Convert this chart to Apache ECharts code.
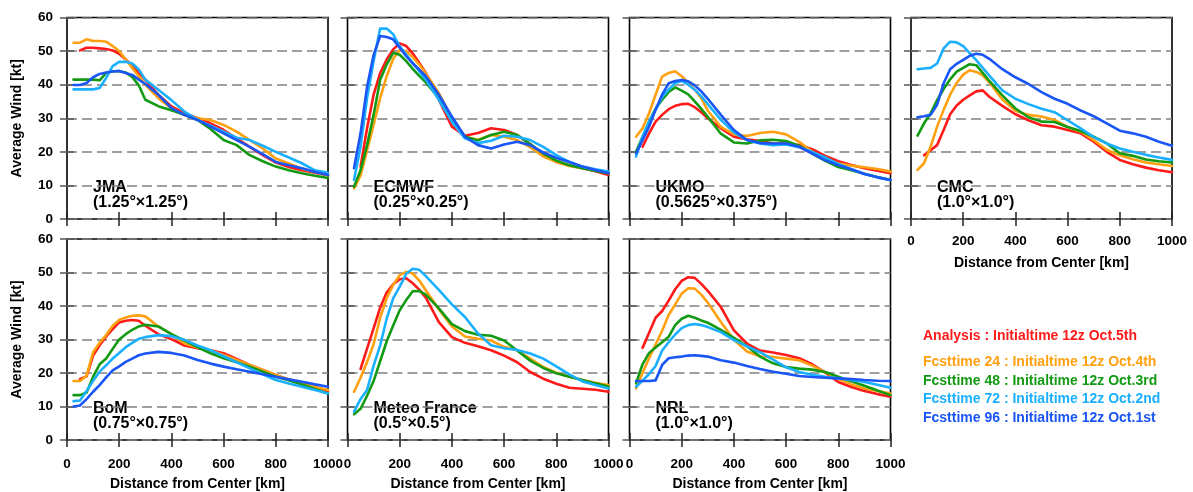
<!DOCTYPE html>
<html>
<head>
<meta charset="utf-8">
<script src="https://cdn.jsdelivr.net/npm/echarts@6/dist/echarts.min.js"></script>
<style>
html,body{margin:0;padding:0;background:#fff;}
#chart{width:1193px;height:492px;}
</style>
</head>
<body>
<div id="chart"></div>
<script>
// ---------------- DATA ----------------
const distance = [25,50,75,100,125,150,175,200,225,250,275,300,350,400,450,500,550,600,650,700,750,800,850,900,950,1000];

const models = ['JMA','ECMWF','UKMO','CMC','BoM','Meteo France','NRL'];
const resolutions = ['(1.25°×1.25°)','(0.25°×0.25°)','(0.5625°×0.375°)','(1.0°×1.0°)','(0.75°×0.75°)','(0.5°×0.5°)','(1.0°×1.0°)'];
const seriesNames = [
  'Analysis : Initialtime 12z Oct.5th',
  'Fcsttime 24 : Initialtime 12z Oct.4th',
  'Fcsttime 48 : Initialtime 12z Oct.3rd',
  'Fcsttime 72 : Initialtime 12z Oct.2nd',
  'Fcsttime 96 : Initialtime 12z Oct.1st'
];
const seriesColors = ['#ff1a1a','#ffa010','#139a13','#1ab0ff','#1a55f5'];
const xTickValues = [0,200,400,600,800,1000];
const yTickValues = [0,10,20,30,40,50,60];

// JMA
const jmaAna = [null,50.2,51,51,50.8,50.6,50.2,49.2,47.5,45.5,43.5,41.5,37,33.5,31.5,30,28.5,26.5,24,21.5,19,16.8,15.5,14.5,13.8,13];
const jmaF24 = [52.5,52.5,53.5,53,53,52.8,51.5,50,47.5,45,42.5,40,36,33,31,30,29.5,28,26,23.5,21,18,16.5,15,14,13];
const jmaF48 = [41.5,41.5,41.5,41.5,41.3,43.5,44,44,43.6,42.3,39.8,35.5,33.6,32.4,31,29.5,26.8,23.5,22,19,17.2,15.6,14.5,13.6,12.9,12.2];
const jmaF72 = [38.6,38.6,38.6,38.6,39,42,45.5,46.8,46.8,46.3,44.5,41.5,38.5,35.4,32,29.5,27.8,26,24.2,23.5,21.8,20,18.3,16.6,14.5,13.8];
const jmaF96 = [39.9,39.9,40.5,42.2,43.2,43.6,43.9,44.1,43.5,42.9,41.5,40.2,37,33,31,29.5,27.5,25.5,23.5,21.5,19.3,17,16,15.1,14,13.1];

// ECMWF
const ecAna = [null,15.6,27,37,43.4,47.5,50.5,52.3,51.5,49.3,46.5,43.5,35.5,27.5,24.8,25.6,27,26.5,25,22.3,19,17,16,15.1,14.2,13.1];
const ecF24 = [9.1,13,20.5,28,36,42.5,47.7,50.3,50,48.2,46,43.3,37.5,30,24.4,23.6,25,24.5,23.5,21.4,18.6,17,15.8,15.1,14.5,13.8];
const ecF48 = [9.6,14.5,22,31,41.4,46,49.5,48.9,47,44.7,42.6,40.7,36,30,24.6,23.4,25,26,25,22.3,19.5,17.4,16,15.1,14.3,13.6];
const ecF72 = [11.6,21.5,36,47,56.7,56.7,55,51.5,49,46.5,44,41.5,35.5,29,24,22.6,23.3,24.8,24.5,23.5,21.5,19,17,15.6,14.8,14.1];
const ecF96 = [15.1,25.5,39.4,48.8,54.5,54.2,53.5,51,48.5,46.3,44.5,42.5,37,30.5,24.5,22,21,22.2,23,22,19.8,18.2,17,15.6,14.6,13.6];

// UKMO
const ukAna = [null,21.5,25.5,29,31,32.7,33.7,34.2,34.3,33.3,31.8,30,27,24.5,23.7,23.2,22.5,22.5,22,20.8,18.8,17.2,16.1,15.1,14.4,13.6];
const ukF24 = [24.5,27,31.5,37,42.4,43.5,44,42.5,40.5,38.5,36,32.3,27.4,25.2,24.7,25.6,26,25.2,23,20,17.8,16.5,15.9,15.4,14.9,14.1];
const ukF48 = [20,24.5,29,32.8,35.5,37.8,39.2,38.2,37.1,35,32.8,30.4,25.4,22.8,22.5,23.4,23.6,23.2,21.8,19.5,17.3,15.5,14.5,13.5,12.5,11.6];
const ukF72 = [18.6,24.5,29,32.5,36.3,38.5,40.5,41.1,40,38.5,36.5,34.2,29.5,25.8,23.5,22.5,22,22.2,21.4,20,18.3,16.4,14.8,13.4,12.4,11.6];
const ukF96 = [19.5,23.5,27.5,32.6,37,40.4,41.1,41.4,41,39.8,38,35.8,31,26.5,23.5,22.6,22.5,22.5,21.5,19.5,17.5,16,14.8,13.4,12.4,11.6];

// CMC
const cmcAna = [null,19,20.5,22,26.5,31.2,33.8,35.5,36.8,38,38.3,36.4,33.7,31.2,29.4,27.9,27.5,26.5,25.5,23,20,17.6,16.3,15.3,14.5,13.9];
const cmcF24 = [14.6,16.6,21.5,27.5,32.5,37,40.5,43,44.3,43.8,42.8,40.7,35.6,32.2,31,30.5,29.5,27.4,26,23.5,20.6,19,17.8,16.8,16.3,15.8];
const cmcF48 = [24.8,28.5,31.4,35.4,38.7,41.6,43.9,45,46.1,45.8,43.5,41.1,36.8,32.9,30.3,29,28.9,27.4,26.2,24.5,22.5,19.6,18.8,17.7,17.2,16.8];
const cmcF72 = [44.6,44.8,45,46.3,50.8,52.8,52.6,51.5,49.4,47.3,45,42.7,38.3,35.8,34.2,32.8,31.8,29.4,27,24.4,22.5,21,20,19.1,18.3,17.6];
const cmcF96 = [30.3,30.6,31,34,40.4,44.6,46.2,47.4,48.6,49.2,48.9,47.7,44.6,42.2,40.2,37.8,35.8,34.3,32.3,30.6,28.5,26.3,25.5,24.5,23,21.8];

// BoM
const bomAna = [null,18.2,19,25.2,28.3,30.9,33.1,35.1,35.6,35.8,35.6,34.1,31.6,30.1,28.2,27.4,26.8,25.9,24.2,22.4,20.9,19.4,18,16.6,15.5,14.4];
const bomF24 = [17.6,17.6,19.2,26.2,29,31.3,34.1,35.8,36.6,37.1,37.2,36.9,33.9,31.6,28.8,27.6,26.7,25.4,23.9,22.4,20.9,19.4,18.1,16.9,15.9,14.9];
const bomF48 = [13.4,13.4,14.2,18.9,22.6,24.3,27.2,30,31.6,32.9,33.9,34.4,33.9,31.6,29.7,27.7,25.9,24.4,23.2,21.9,20.4,18.9,17.8,16.6,15.2,13.9];
const bomF72 = [11.6,11.8,14.6,17.7,20.4,22.3,24.3,26,27.7,29,30.2,30.7,31.3,31,29.9,28.2,26.8,25,23.2,21.4,19.6,17.9,16.9,15.9,14.9,13.9];
const bomF96 = [10,10.3,12.2,14.4,16.4,18.7,20.8,22,23.3,24.3,25.3,25.8,26.3,26,25.2,23.9,22.8,21.9,21.1,20.4,19.6,18.9,18.1,17.4,16.6,15.9];

// Meteo France (no 96h forecast)
const mfAna = [null,21.2,27.3,33.3,39.5,44,46.5,48,48.3,46.8,44.9,42.5,35.2,30.7,29,28,26.8,25.2,23.2,20.3,18.3,16.8,15.6,15.3,15,14.4];
const mfF24 = [14.4,18.6,23.3,28.6,36.5,42.3,46.3,49.2,50.2,49.7,47.6,44.7,39,33.9,30.9,30.2,29.7,27.8,26.8,24.3,21.8,20.1,18.9,17.9,17.1,16.4];
const mfF48 = [7.7,9.3,13.2,17.6,23.5,29.4,34.2,38.7,41.8,44.4,44.5,43.4,39.3,34.6,32.5,31.4,31.1,29.7,26.7,23.7,21.5,19.9,18.9,17.9,16.9,16];
const mfF72 = [8.5,12.2,14.9,22.2,28.2,36.2,42.3,45.8,49.6,51.1,50.8,48.9,44.8,40.5,36.7,31.8,28.3,27.4,26.9,25.8,24.3,22,19.6,17.5,16.4,15.4];
const mfF96 = [];

// NRL
const nrlAna = [null,27.5,32,36.5,38.5,41.6,45,47.5,48.6,48.4,46.6,44.5,39.7,32.7,28.8,26.7,26.1,25.4,24.4,22.6,20.1,17.3,15.8,14.6,13.7,12.9];
const nrlF24 = [15.4,20,24.4,28.5,32.6,37.3,40.5,43.7,45.3,45.2,43.4,41,35.2,29.9,26.4,25,24.8,24.3,23.8,22.2,20.2,18.3,16.6,15.4,14.6,13.9];
const nrlF48 = [16.9,22.6,26,27.6,29.2,30.8,34.3,36.2,37.1,36.5,35.7,35,32.9,30.5,28,24.9,22.9,21.8,21.3,21,20.3,18.9,17.5,16.2,14.8,13.4];
const nrlF72 = [15.9,17.7,19.7,22.1,26.7,29.2,31.5,33.4,34.3,34.6,34.3,33.7,32.2,29.8,28,26.2,24,21.7,20.3,19.5,18.9,18.4,17.9,17.3,16.5,15.6];
const nrlF96 = [17.6,17.6,17.6,17.8,22.4,24.4,24.7,24.9,25.2,25.3,25.1,24.9,23.8,23.1,22.1,21.2,20.4,19.8,19.1,18.8,18.6,18.4,18.2,17.9,17.7,17.6];

const panelSeries = [
  [jmaAna,jmaF24,jmaF48,jmaF72,jmaF96],
  [ecAna,ecF24,ecF48,ecF72,ecF96],
  [ukAna,ukF24,ukF48,ukF72,ukF96],
  [cmcAna,cmcF24,cmcF48,cmcF72,cmcF96],
  [bomAna,bomF24,bomF48,bomF72,bomF96],
  [mfAna,mfF24,mfF48,mfF72,mfF96],
  [nrlAna,nrlF24,nrlF48,nrlF72,nrlF96]
];

// ---------------- LAYOUT ----------------
const FONT = '"Liberation Sans", Arial, Helvetica, sans-serif';
const colLeft = [67, 347.5, 629.5, 911];
const panelW = 261;
const rowTop = [17.5, 239];
const rowH = [201.5, 201];

const grids = [], xAxes = [], yAxes = [], series = [], graphics = [];

models.forEach((m, i) => {
  const row = i < 4 ? 0 : 1;
  const col = i < 4 ? i : i - 4;
  const L = colLeft[col], T = rowTop[row], H = rowH[row];
  grids.push({left: L, top: T, width: panelW, height: H, show: true,
    borderColor: '#000', borderWidth: 1.6, backgroundColor: 'transparent', containLabel: false});

  const showX = row === 1 || i === 3;
  const showY = col === 0;
  const xTick = {show: true, inside: false, length: 7, lineStyle: {color: '#222', width: 1.5}};
  const yTick = {show: true, inside: false, length: 7, lineStyle: {color: '#555', width: 1.5}};

  // bottom x axis
  xAxes.push({gridIndex: i, type: 'value', position: 'bottom', min: xTickValues[0], max: xTickValues[xTickValues.length-1],
    interval: xTickValues[1]-xTickValues[0],
    axisLine: {show: false}, axisTick: xTick, splitLine: {show: false},
    axisLabel: {show: showX, color: '#000', fontWeight: 'bold', fontSize: 13.5, fontFamily: FONT, margin: row === 1 ? 17 : 15,
      showMinLabel: true, showMaxLabel: true, formatter: v => String(v)},
    name: showX ? 'Distance from Center [km]' : '', nameLocation: 'middle', nameGap: 37,
    nameTextStyle: {color: '#000', fontWeight: 'bold', fontSize: 14, fontFamily: FONT}
  });
  // top x axis (ticks only)
  xAxes.push({gridIndex: i, type: 'value', position: 'top', min: xTickValues[0], max: xTickValues[xTickValues.length-1],
    interval: xTickValues[1]-xTickValues[0],
    axisLine: {show: false}, axisTick: xTick, splitLine: {show: false}, axisLabel: {show: false}
  });
  // left y axis
  yAxes.push({gridIndex: i, type: 'value', position: 'left', min: yTickValues[0], max: yTickValues[yTickValues.length-1],
    interval: yTickValues[1]-yTickValues[0],
    axisLine: {show: false}, axisTick: yTick,
    splitLine: {show: true, lineStyle: {color: '#808080', width: 1.6, type: [10, 5]}},
    axisLabel: {show: showY, color: '#000', fontWeight: 'bold', fontSize: 13.5, fontFamily: FONT, margin: 14,
      formatter: v => String(v)},
    name: showY ? 'Average Wind [kt]' : '', nameLocation: 'middle', nameGap: 43,
    nameTextStyle: {color: '#000', fontWeight: 'bold', fontSize: 14, fontFamily: FONT}
  });
  // right y axis (ticks only)
  yAxes.push({gridIndex: i, type: 'value', position: 'right', min: yTickValues[0], max: yTickValues[yTickValues.length-1],
    interval: yTickValues[1]-yTickValues[0],
    axisLine: {show: false}, axisTick: yTick, splitLine: {show: false}, axisLabel: {show: false}
  });

  panelSeries[i].forEach((vals, s) => {
    if (!vals.length) return;
    series.push({
      type: 'line', name: seriesNames[s], xAxisIndex: 2*i, yAxisIndex: 2*i,
      data: distance.map((d, k) => [d, vals[k]]),
      showSymbol: false, symbol: 'none', connectNulls: false, smooth: false,
      lineStyle: {color: seriesColors[s], width: 2.6, join: 'round', cap: 'round'},
      itemStyle: {color: seriesColors[s]},
      z: 3 + s, animation: false, silent: true
    });
  });

  graphics.push({type: 'text', left: L + 26, top: T + H - 39,
    style: {text: m, font: 'bold 16px ' + FONT, fill: '#000'}});
  graphics.push({type: 'text', left: L + 26, top: T + H - 24,
    style: {text: resolutions[i], font: 'bold 16px ' + FONT, fill: '#000'}});
});

const legendY = [329, 355, 374, 392.5, 411.5];
seriesNames.forEach((n, s) => {
  graphics.push({type: 'text', left: 923, top: legendY[s],
    style: {text: n, font: 'bold 14px ' + FONT, fill: seriesColors[s]}});
});

const chart = echarts.init(document.getElementById('chart'), null, {renderer: 'canvas'});
chart.setOption({
  animation: false,
  backgroundColor: '#fff',
  grid: grids, xAxis: xAxes, yAxis: yAxes, series: series, graphic: graphics
});
</script>
</body>
</html>
